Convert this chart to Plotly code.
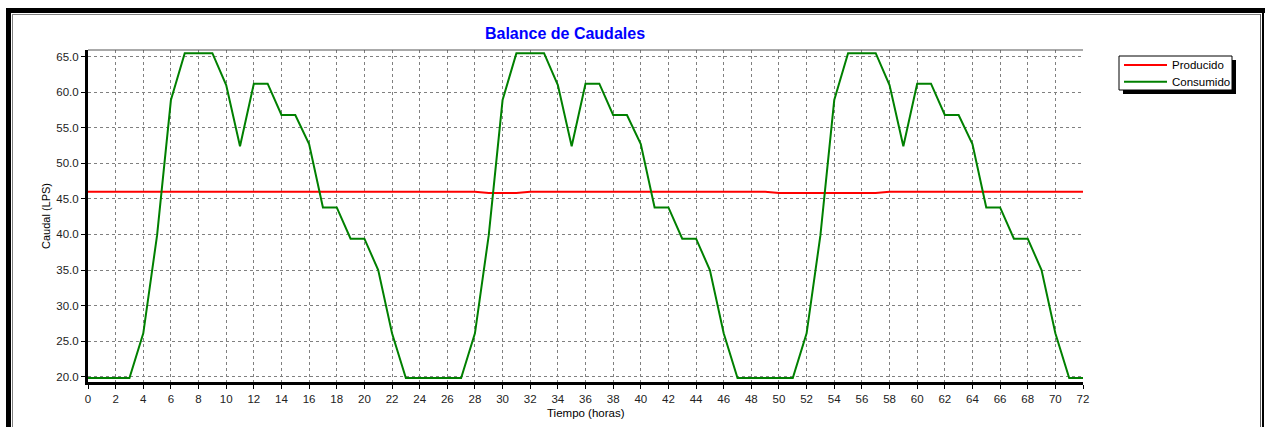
import plotly.graph_objects as go

# Hourly flow balance over three days (LPS)
horas = list(range(0, 73))

consumido = [
    19.8, 19.8, 19.8, 19.8, 26.1, 39.9, 58.9, 65.5, 65.5, 65.5, 61.0, 52.4,
    61.2, 61.2, 56.8, 56.8, 52.7, 43.8, 43.8, 39.4, 39.4, 35.0, 26.1, 19.8,
    19.8, 19.8, 19.8, 19.8, 26.1, 39.9, 58.9, 65.5, 65.5, 65.5, 61.0, 52.4,
    61.2, 61.2, 56.8, 56.8, 52.7, 43.8, 43.8, 39.4, 39.4, 35.0, 26.1, 19.8,
    19.8, 19.8, 19.8, 19.8, 26.1, 39.9, 58.9, 65.5, 65.5, 65.5, 61.0, 52.4,
    61.2, 61.2, 56.8, 56.8, 52.7, 43.8, 43.8, 39.4, 39.4, 35.0, 26.1, 19.8,
    19.8,
]

producido = [
    46.02, 46.02, 46.02, 46.02, 46.02, 46.02, 46.02, 46.02, 46.02, 46.02, 46.02, 46.02,
    46.02, 46.02, 46.02, 46.02, 46.02, 46.02, 46.02, 46.02, 46.02, 46.02, 46.02, 46.02,
    46.02, 46.02, 46.02, 46.02, 46.02, 45.84, 45.84, 45.84, 46.02, 46.02, 46.02, 46.02,
    46.02, 46.02, 46.02, 46.02, 46.02, 46.02, 46.02, 46.02, 46.02, 46.02, 46.02, 46.02,
    46.02, 46.02, 45.84, 45.84, 45.84, 45.84, 45.84, 45.84, 45.84, 45.84, 46.02, 46.02,
    46.02, 46.02, 46.02, 46.02, 46.02, 46.02, 46.02, 46.02, 46.02, 46.02, 46.02, 46.02,
    46.02,
]

series_names = ["Producido", "Consumido"]
series_colors = ["#ff0000", "#008000"]

x_ticks = list(range(0, 73, 2))
y_ticks = [20, 25, 30, 35, 40, 45, 50, 55, 60, 65]

# Page / plot-area geometry in pixels
FIG_W, FIG_H = 1265, 427
M_L, M_R, M_T, M_B = 88, 182, 50, 45
PW = FIG_W - M_L - M_R
PH = FIG_H - M_T - M_B


def px(xp):
    return (xp - M_L) / PW


def py(yp):
    return (FIG_H - M_B - yp) / PH


FONT = "Liberation Sans, Arial, sans-serif"

fig = go.Figure()
for name, color, values in zip(series_names, series_colors, [producido, consumido]):
    fig.add_trace(go.Scatter(
        x=horas, y=values, mode="lines", name=name,
        line=dict(color=color, width=2), showlegend=False,
    ))

shapes = []
annotations = []


def rect(x0, y0, x1, y1, color, border=None):
    shapes.append(dict(
        type="rect", xref="paper", yref="paper",
        x0=px(x0), x1=px(x1), y0=py(y0), y1=py(y1),
        fillcolor=color,
        line=dict(width=1 if border else 0, color=border or color),
        layer="above",
    ))


# Window frame: heavy black band on top/left, thin rules inside
rect(6, 8, 1265, 13, "#000000")
rect(6, 8, 11, 427, "#000000")
rect(12, 14, 1261, 15, "#808080")
rect(12, 14, 13, 427, "#808080")
rect(1260, 14, 1261, 427, "#606060")
rect(1262, 8, 1264, 427, "#000000")

# Top border of the plot area
shapes.append(dict(
    type="line", xref="paper", yref="paper", x0=0, x1=1, y0=1, y1=1,
    line=dict(color="#555555", width=1), layer="above",
))

# Legend box with drop shadow, line samples and labels
rect(1123, 60, 1236, 94, "#000000")
rect(1119, 56, 1232, 90, "#ffffff", border="#000000")
for i, (name, color) in enumerate(zip(series_names, series_colors)):
    yy = 65 + i * 16.7
    shapes.append(dict(
        type="line", xref="paper", yref="paper",
        x0=px(1124), x1=px(1167), y0=py(yy), y1=py(yy),
        line=dict(color=color, width=2), layer="above",
    ))
    annotations.append(dict(
        text=name, xref="paper", yref="paper",
        x=px(1170), y=py(yy), xanchor="left", yanchor="middle",
        showarrow=False,
        font=dict(family=FONT, size=11.5, color="#000000"),
    ))

# Axis titles
annotations += [
    dict(text="Caudal (LPS)", xref="paper", yref="paper",
         x=px(46), y=0.5, xanchor="center", yanchor="middle",
         textangle=-90, showarrow=False,
         font=dict(family=FONT, size=11, color="#000000")),
    dict(text="Tiempo (horas)", xref="paper", yref="paper",
         x=0.5, y=py(413), xanchor="center", yanchor="middle",
         showarrow=False,
         font=dict(family=FONT, size=11.5, color="#000000")),
]

fig.update_layout(
    width=FIG_W, height=FIG_H,
    margin=dict(l=M_L, r=M_R, t=M_T, b=M_B),
    paper_bgcolor="white", plot_bgcolor="white",
    font=dict(family=FONT, size=11, color="#222222"),
    title=dict(
        text="<b>Balance de Caudales</b>",
        font=dict(family=FONT, size=16, color="#0000ff"),
        x=565 / FIG_W, xref="container", xanchor="center",
        y=1 - 33 / FIG_H, yref="container", yanchor="middle",
    ),
    showlegend=False,
    shapes=shapes,
    annotations=annotations,
)

fig.update_xaxes(
    range=[0, 72], tickvals=x_ticks, ticktext=[str(v) for v in x_ticks],
    showgrid=True, gridcolor="#808080", gridwidth=1, griddash="3px,3px",
    showline=True, linecolor="#000000", linewidth=3,
    ticks="outside", ticklen=4, tickwidth=1, tickcolor="#000000",
    tickfont=dict(family=FONT, size=11.5, color="#222222"),
    zeroline=False, fixedrange=True,
)
fig.update_yaxes(
    range=[19.25, 65.94], tickvals=y_ticks, ticktext=[f"{v:.1f}" for v in y_ticks],
    showgrid=True, gridcolor="#808080", gridwidth=1, griddash="3px,3px",
    showline=True, linecolor="#000000", linewidth=3,
    ticks="outside", ticklen=4, tickwidth=1, tickcolor="#000000",
    tickfont=dict(family=FONT, size=11.5, color="#222222"),
    zeroline=False, fixedrange=True,
)

fig.write_html("out.html")
